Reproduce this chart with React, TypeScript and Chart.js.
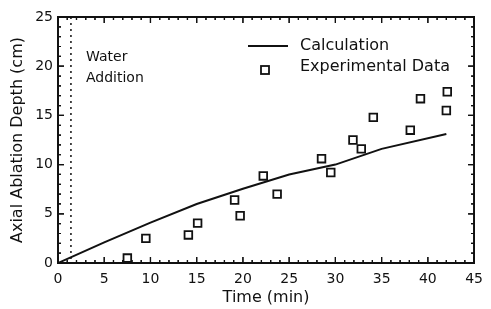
import React, { useEffect, useRef } from "react";
import { Chart, registerables } from "chart.js";

Chart.register(...registerables);

const calcTime = [0, 5, 10, 15, 20, 25, 30, 35, 42];
const calcDepth = [0, 2.1, 4.1, 6.0, 7.55, 9.0, 10.0, 11.6, 13.1];

const expTime = [7.5, 9.5, 14.1, 15.1, 19.1, 19.7, 22.2, 23.7, 28.5, 29.5, 31.9, 32.8, 34.1, 38.1, 39.2, 42.0, 42.1];
const expDepth = [0.5, 2.5, 2.85, 4.05, 6.4, 4.8, 8.85, 7.0, 10.6, 9.2, 12.5, 11.6, 14.8, 13.5, 16.7, 15.5, 17.4];

const waterAdditionTime = 1.4;
const xTicks = [0, 5, 10, 15, 20, 25, 30, 35, 40, 45];
const yTicks = [0, 5, 10, 15, 20, 25];

const FONT = "'DejaVu Sans', sans-serif";
const INK = "#111";

function drawFrame(chart: any) {
  const ctx: CanvasRenderingContext2D = chart.ctx;
  const a = chart.chartArea;
  const x = chart.scales.x;
  const y = chart.scales.y;
  ctx.save();
  ctx.setLineDash([]);
  ctx.strokeStyle = INK;
  ctx.lineWidth = 1.8;
  ctx.beginPath();
  ctx.rect(a.left, a.top, a.right - a.left, a.bottom - a.top);
  ctx.stroke();
  ctx.lineWidth = 1.2;
  ctx.beginPath();
  const x0 = xTicks[0], x1 = xTicks[xTicks.length - 1];
  for (let v = x0; v <= x1; v += 1) {
    const px = x.getPixelForValue(v);
    const len = v % 5 === 0 ? 6 : 3;
    ctx.moveTo(px, a.bottom);
    ctx.lineTo(px, a.bottom - len);
    ctx.moveTo(px, a.top);
    ctx.lineTo(px, a.top + len);
  }
  const y0 = yTicks[0], y1 = yTicks[yTicks.length - 1];
  for (let v = y0; v <= y1; v += 1) {
    const py = y.getPixelForValue(v);
    const len = v % 5 === 0 ? 6 : 3;
    ctx.moveTo(a.left, py);
    ctx.lineTo(a.left + len, py);
    ctx.moveTo(a.right, py);
    ctx.lineTo(a.right - len, py);
  }
  ctx.stroke();
  ctx.restore();
}

const framePlugin = {
  id: "frame",
  beforeDatasetsDraw(chart: any) {
    const { ctx, chartArea: a, scales } = chart;
    const x = scales.x;
    ctx.save();
    const wx = x.getPixelForValue(waterAdditionTime);
    ctx.strokeStyle = INK;
    ctx.lineWidth = 1.5;
    ctx.setLineDash([2, 4]);
    ctx.beginPath();
    ctx.moveTo(wx, a.top);
    ctx.lineTo(wx, a.bottom);
    ctx.stroke();
    ctx.setLineDash([]);
    ctx.fillStyle = INK;
    ctx.font = `14px ${FONT}`;
    ctx.textBaseline = "middle";
    ctx.textAlign = "left";
    ctx.fillText("Water", a.left + 28, a.top + 40);
    ctx.fillText("Addition", a.left + 28, a.top + 61);
    ctx.restore();
    drawFrame(chart);
  },
  afterDraw(chart: any) {
    const { ctx, chartArea: a } = chart;
    drawFrame(chart);
    ctx.save();
    ctx.strokeStyle = INK;
    const lx = a.left + 190;
    ctx.lineWidth = 1.8;
    ctx.beginPath();
    ctx.moveTo(lx, a.top + 29);
    ctx.lineTo(lx + 40, a.top + 29);
    ctx.stroke();
    ctx.lineWidth = 1.8;
    ctx.strokeRect(lx + 13, a.top + 49, 8, 8);
    ctx.fillStyle = INK;
    ctx.font = `16px ${FONT}`;
    ctx.textBaseline = "middle";
    ctx.textAlign = "left";
    ctx.fillText("Calculation", lx + 52, a.top + 29);
    ctx.fillText("Experimental Data", lx + 52, a.top + 50);
    ctx.restore();
  },
};

export default function App() {
  const ref = useRef<HTMLCanvasElement>(null);
  useEffect(() => {
    if (!ref.current) return;
    const chart = new Chart(ref.current, {
      type: "scatter",
      data: {
        datasets: [
          {
            type: "line",
            label: "Calculation",
            data: calcTime.map((t, i) => ({ x: t, y: calcDepth[i] })),
            borderColor: INK,
            borderWidth: 2,
            pointRadius: 0,
            tension: 0,
            fill: false,
          } as any,
          {
            label: "Experimental Data",
            data: expTime.map((t, i) => ({ x: t, y: expDepth[i] })),
            pointStyle: "rect",
            pointRadius: 5.4,
            pointBorderWidth: 1.8,
            borderColor: INK,
            backgroundColor: "rgba(0,0,0,0)",
            showLine: false,
          },
        ],
      },
      options: {
        responsive: false,
        animation: false,
        layout: { padding: { left: 0, right: 14, top: 17, bottom: 0 } },
        plugins: { legend: { display: false }, tooltip: { enabled: false } },
        scales: {
          x: {
            type: "linear",
            min: 0,
            max: 45,
            afterBuildTicks: (s: any) => {
              s.ticks = xTicks.map((v) => ({ value: v }));
            },
            afterFit: (s: any) => {
              s.height = 46;
            },
            grid: { display: false, drawTicks: false },
            border: { display: false },
            ticks: { color: INK, font: { family: FONT, size: 14 }, padding: 8, maxRotation: 0 },
            title: {
              display: true,
              text: "Time (min)",
              color: INK,
              font: { family: FONT, size: 16 },
              padding: { top: 0, bottom: 2 },
            },
          },
          y: {
            type: "linear",
            min: 0,
            max: 25,
            afterBuildTicks: (s: any) => {
              s.ticks = yTicks.map((v) => ({ value: v }));
            },
            afterFit: (s: any) => {
              s.width = 58;
            },
            grid: { display: false, drawTicks: false },
            border: { display: false },
            ticks: { color: INK, font: { family: FONT, size: 14 }, padding: 5 },
            title: {
              display: true,
              text: "Axial Ablation Depth (cm)",
              color: INK,
              font: { family: FONT, size: 16 },
              padding: { top: 8, bottom: 0 },
            },
          },
        },
      },
      plugins: [framePlugin],
    });
    return () => chart.destroy();
  }, []);
  return (
    <div style={{ position: "fixed", left: 0, top: 0, width: 491, height: 309, background: "#fff" }}>
      <canvas ref={ref} width={491} height={309} />
    </div>
  );
}
